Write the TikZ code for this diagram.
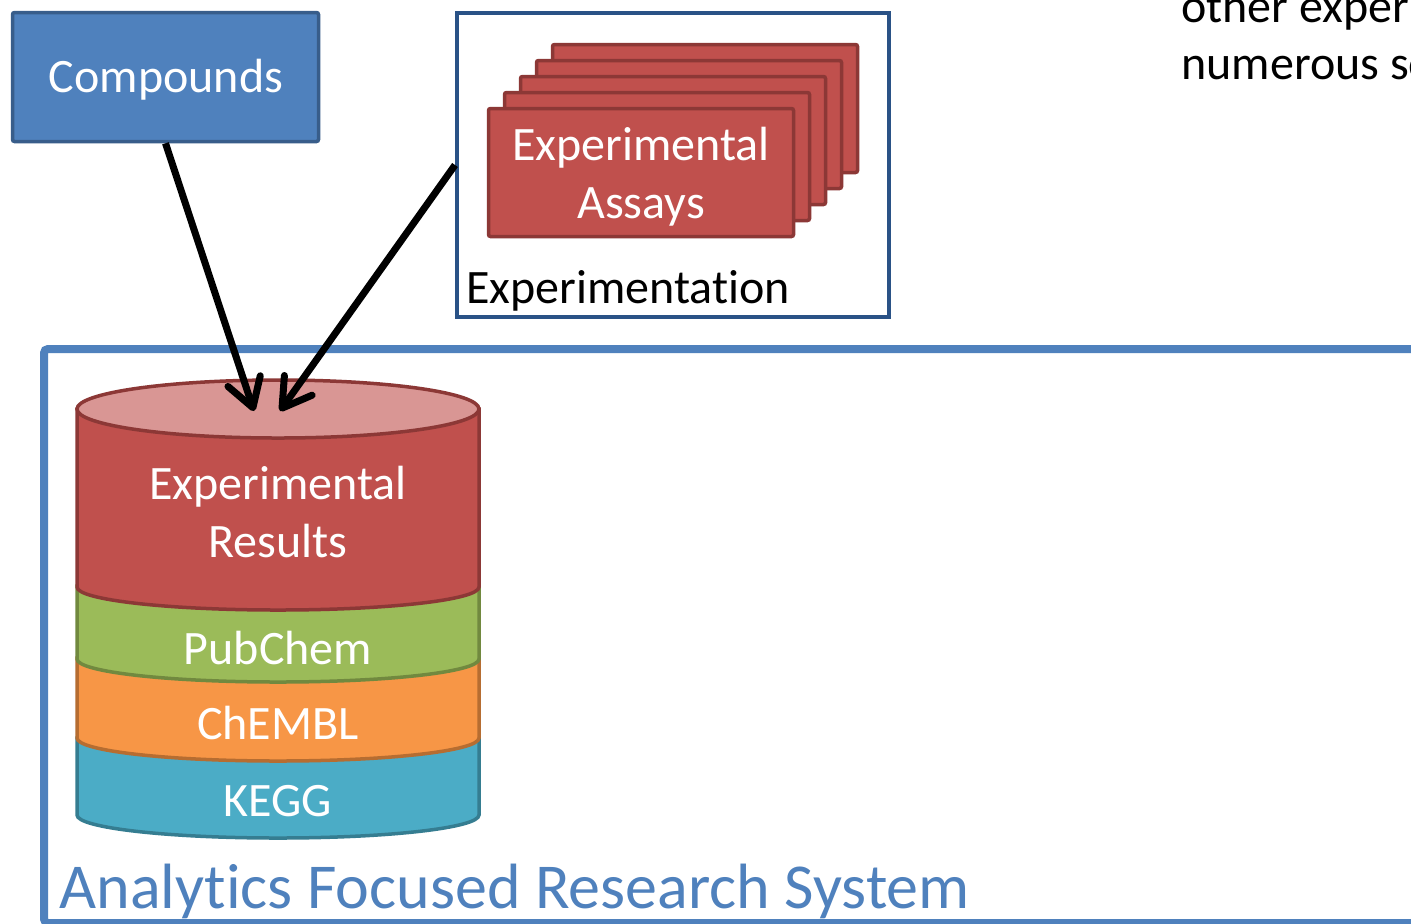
\documentclass[tikz,border=0pt]{standalone}
\usepackage{fontspec}
\setmainfont{Carlito}[Ligatures={NoCommon,NoRequired,NoContextual},RawFeature={-liga,-clig,-calt}]
\usetikzlibrary{arrows.meta}
\definecolor{cmpfill}{HTML}{4F81BD}
\definecolor{cmpdraw}{HTML}{385D8A}
\definecolor{expdraw}{HTML}{2A5286}
\definecolor{redfill}{HTML}{C0504D}
\definecolor{reddraw}{HTML}{8C3836}
\definecolor{redtop}{HTML}{D99694}
\definecolor{grnfill}{HTML}{9BBB59}
\definecolor{grndraw}{HTML}{71893F}
\definecolor{orgfill}{HTML}{F79646}
\definecolor{orgdraw}{HTML}{B66D31}
\definecolor{cyanfill}{HTML}{4BACC6}
\definecolor{cyandraw}{HTML}{357D91}
\tikzset{
  txt/.style={font=\fontsize{24}{29}\selectfont},
  whitetxt/.style={txt, text=white, align=center},
  card/.style={draw=reddraw, fill=redfill, line width=1.75pt, rounded corners=1pt,
    minimum width=152.5pt, minimum height=64pt, inner sep=0pt},
  band/.style={line width=1.75pt},
  arr/.style={line width=3.5pt, -{Straight Barb[length=14pt,width=17pt,round]}},
}
\begin{document}
\begin{tikzpicture}[x=0.5pt,y=-0.5pt]
\clip (0,0) rectangle (1411,923);
\fill[white] (0,0) rectangle (1411,923);
% big system frame
\draw[cmpfill, line width=4pt, rounded corners=2pt] (44,349) rectangle (1440,923);
\node[anchor=base west, font=\fontsize{32}{38}\selectfont, text=cmpfill, inner sep=0pt] (sys) at (59,908) {Analytics Focused Research System};
% compounds
\node[draw=cmpdraw, fill=cmpfill, line width=1.75pt, rounded corners=1pt, minimum width=153pt, minimum height=64.5pt] (comp) at (165.5,77) {};
\node[whitetxt] (comptxt) at (166,80) {Compounds};
% experimentation box
\node[draw=expdraw, line width=2pt, minimum width=216pt, minimum height=152pt, fill=white] (expbox) at (673,165) {};
\node[anchor=base west, txt, inner sep=0pt] (explabel) at (466,303) {Experimentation};
\node[card] (c5) at (705,108.5) {};
\node[card] (c4) at (689,124.5) {};
\node[card] (c3) at (673,140.5) {};
\node[card] (c2) at (657,156.5) {};
\node[card] (c1) at (641,172.5) {};
\node[whitetxt] (assaytxt) at (641,177) {Experimental\\Assays};
% right text
\node[anchor=base west, txt, inner sep=0pt] (rt1) at (1181,22) {other experiments};
\node[anchor=base west, txt, inner sep=0pt] (rt2) at (1181,79) {numerous sources};
% cylinder stack
\draw[band, draw=cyandraw, fill=cyanfill] (77,738) -- (77,815) arc[start angle=180,end angle=360,x radius=100.5pt,y radius=11.5pt] -- (479,738) -- cycle;
\draw[band, draw=orgdraw, fill=orgfill] (77,658) -- (77,738) arc[start angle=180,end angle=360,x radius=100.5pt,y radius=11.5pt] -- (479,658) -- cycle;
\draw[band, draw=grndraw, fill=grnfill] (77,586) -- (77,659) arc[start angle=180,end angle=360,x radius=100.5pt,y radius=11.5pt] -- (479,586) -- cycle;
\draw[band, draw=reddraw, fill=redfill] (77,409) -- (77,587) arc[start angle=180,end angle=360,x radius=100.5pt,y radius=11.5pt] -- (479,409) -- cycle;
\draw[band, draw=reddraw, fill=redtop] (278,409) ellipse[x radius=100.5pt, y radius=14.5pt];
\node[whitetxt] (res) at (278,512) {Experimental\\Results};
\node[whitetxt] (pub) at (278,648) {PubChem};
\node[whitetxt] (chembl) at (278,723) {ChEMBL};
\node[whitetxt] (kegg) at (278,801) {KEGG};
% arrows
\coordinate (tipA) at (254,411);
\coordinate (tipB) at (280,411);
\draw[arr] (comp.south) -- (tipA);
\draw[arr] (expbox.west) -- (tipB);
\end{tikzpicture}
\end{document}
